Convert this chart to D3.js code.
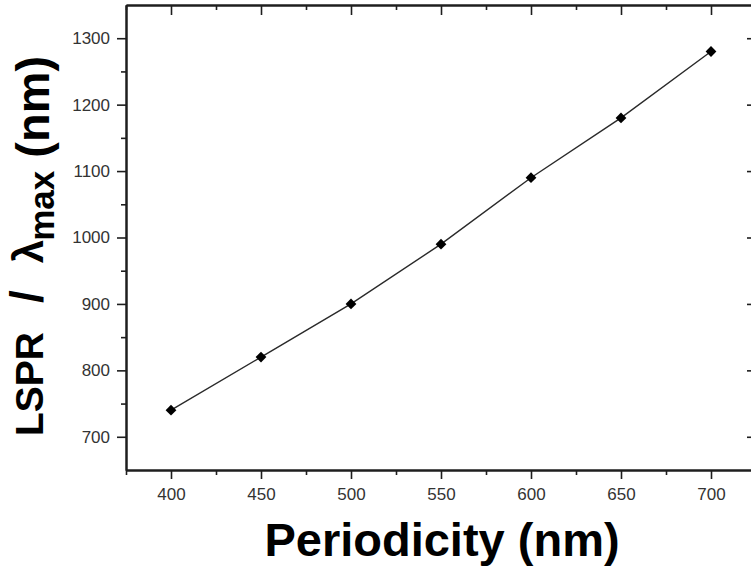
<!DOCTYPE html>
<html>
<head>
<meta charset="utf-8">
<script src="https://cdn.jsdelivr.net/npm/d3@7"></script>
<style>
  html, body { margin: 0; padding: 0; background: #fff; }
  svg { display: block; }
</style>
</head>
<body>
<svg id="chart" width="751" height="574"></svg>
<script>
// ---- data ----
const periodicity = [400, 450, 500, 550, 600, 650, 700];
const lsprMax = [740, 820, 900, 990, 1090, 1180, 1280];
const xMajorTicks = [400, 450, 500, 550, 600, 650, 700];
const xMinorTicks = [375, 425, 475, 525, 575, 625, 675, 725];
const yMajorTicks = [700, 800, 900, 1000, 1100, 1200, 1300];
const yMinorTicks = [750, 850, 950, 1050, 1150, 1250];
const xTitle = "Periodicity (nm)";

const svg = d3.select("#chart");
const pLeft = 126, pRight = 756, pTop = 5, pBottom = 470;

const x = d3.scaleLinear().domain([375, 725]).range([pLeft, pRight]);
const y = d3.scaleLinear().domain([650, 1350]).range([pBottom, pTop]);

const axisColor = "#1e1e1e";
const labelColor = "#333";
const font = "'Liberation Sans', Arial, Helvetica, sans-serif";

function styleAxis(g) {
  g.select(".domain").attr("stroke", axisColor).attr("stroke-width", 2);
  g.selectAll(".tick line").attr("stroke", axisColor).attr("stroke-width", 1.6);
  g.selectAll(".tick text").attr("fill", labelColor)
    .style("font-family", font).style("font-size", "17px");
}

// bottom axis
svg.append("g").attr("transform", `translate(0,${pBottom})`)
  .call(d3.axisBottom(x).tickValues(xMajorTicks).tickSize(9).tickSizeOuter(0).tickPadding(9).tickFormat(d3.format("d")))
  .call(styleAxis);
svg.append("g").attr("transform", `translate(0,${pBottom})`)
  .call(d3.axisBottom(x).tickValues(xMinorTicks).tickSize(5).tickSizeOuter(0).tickFormat(""))
  .call(styleAxis);

// top axis (inward ticks)
svg.append("g").attr("transform", `translate(0,${pTop})`)
  .call(d3.axisTop(x).tickValues(xMajorTicks).tickSize(-10).tickSizeOuter(0).tickFormat(""))
  .call(styleAxis);
svg.append("g").attr("transform", `translate(0,${pTop})`)
  .call(d3.axisTop(x).tickValues(xMinorTicks).tickSize(-5).tickSizeOuter(0).tickFormat(""))
  .call(styleAxis);

// left axis
svg.append("g").attr("transform", `translate(${pLeft},0)`)
  .call(d3.axisLeft(y).tickValues(yMajorTicks).tickSize(9).tickSizeOuter(0).tickPadding(7).tickFormat(d3.format("d")))
  .call(styleAxis);
svg.append("g").attr("transform", `translate(${pLeft},0)`)
  .call(d3.axisLeft(y).tickValues(yMinorTicks).tickSize(5).tickSizeOuter(0).tickFormat(""))
  .call(styleAxis);

// right axis (inward ticks)
svg.append("g").attr("transform", `translate(${pRight},0)`)
  .call(d3.axisRight(y).tickValues(yMajorTicks).tickSize(-9).tickSizeOuter(0).tickFormat(""))
  .call(styleAxis);
svg.append("g").attr("transform", `translate(${pRight},0)`)
  .call(d3.axisRight(y).tickValues(yMinorTicks).tickSize(-5).tickSizeOuter(0).tickFormat(""))
  .call(styleAxis);

// data line
const pts = periodicity.map((p, i) => ({ p, v: lsprMax[i] }));
svg.append("path")
  .datum(pts)
  .attr("fill", "none")
  .attr("stroke", "#2a2a2a")
  .attr("stroke-width", 1.4)
  .attr("d", d3.line().x(d => x(d.p)).y(d => y(d.v)));

// diamond markers
const sym = d3.symbol().type(d3.symbolSquare).size(58);
svg.selectAll("path.marker")
  .data(pts)
  .join("path")
  .attr("class", "marker")
  .attr("d", sym)
  .attr("fill", "#000")
  .attr("transform", d => `translate(${x(d.p)},${y(d.v)}) rotate(45)`);

// x title
svg.append("text")
  .attr("x", 442).attr("y", 556)
  .attr("text-anchor", "middle")
  .style("font-family", font)
  .style("font-size", "47px")
  .style("font-weight", "bold")
  .attr("fill", "#000")
  .text(xTitle);

// y title
const yt = svg.append("text")
  .attr("transform", "translate(43,436) rotate(-90)")
  .attr("text-anchor", "start")
  .style("font-family", font)
  .style("font-weight", "bold")
  .attr("fill", "#000");
yt.append("tspan").style("font-size", "39px").text("LSPR");
yt.append("tspan").style("font-size", "46px").attr("dx", 29).text("/");
yt.append("tspan").style("font-size", "42px").attr("dx", 27).text("λ");
yt.append("tspan").style("font-size", "35px").attr("dx", -1).attr("dy", 11).text("max");
yt.append("tspan").style("font-size", "47px").attr("dy", -5).text(" (nm)");
</script>
</body>
</html>
